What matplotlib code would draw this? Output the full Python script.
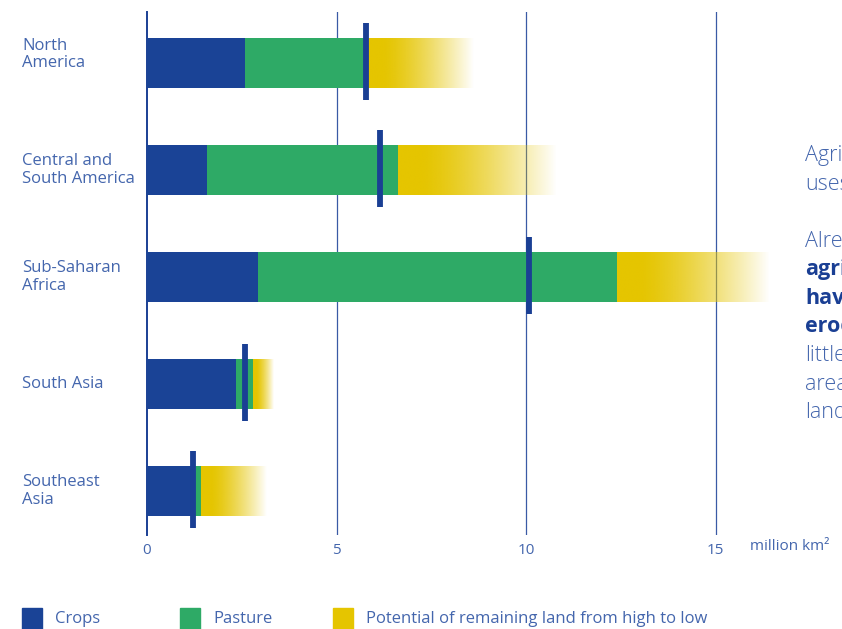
import numpy as np
import matplotlib
matplotlib.use('Agg')
import matplotlib.pyplot as plt
from matplotlib.patches import Rectangle

plt.rcParams['font.family'] = ['Open Sans', 'DejaVu Sans']

# land use per region, million km2
regions = ['North\nAmerica', 'Central and\nSouth America', 'Sub-Saharan\nAfrica',
           'South Asia', 'Southeast\nAsia']
crops = [2.59, 1.59, 2.94, 2.35, 1.27]
pasture = [3.22, 5.02, 9.47, 0.45, 0.16]
potential = [2.80, 4.18, 4.02, 0.53, 1.74]
marker = [5.77, 6.14, 10.08, 2.59, 1.22]
ticks = [0, 5, 10, 15]

side_lines = ['Agriculture', 'uses']
side_lines2 = [('Already', False), ('agricultural', True), ('have', True),
               ('eroded', True), ('little', False), ('areas', False), ('land', False)]

c_crops = '#1a4396'
c_past = '#2eaa66'
c_pot = '#e5c500'
c_text = '#4466ad'
c_dark = '#1a3f94'

fig = plt.figure(figsize=(8.42, 6.29), dpi=100)
ax = fig.add_axes([147 / 842, 94 / 629, 695 / 842, 523 / 629])

y = np.arange(len(regions))
h = 0.467

for t in ticks[1:]:
    ax.axvline(t, color='#3a5aa5', lw=0.9, zorder=0)

ax.barh(y, crops, height=h, color=c_crops, zorder=2)
ax.barh(y, pasture, left=crops, height=h, color=c_past, zorder=2)

# yellow strip fading out toward the right
yellow = np.array(matplotlib.colors.to_rgb(c_pot))
n = 256
tt = np.linspace(0, 1, n)
alpha = np.clip(1 - (np.clip(tt - 0.15, 0, None) / 0.85) ** 1.4, 0, 1)
grad = np.zeros((1, n, 4))
grad[0, :, :3] = yellow
grad[0, :, 3] = alpha
for yi, c, p, pot in zip(y, crops, pasture, potential):
    x0 = c + p
    ax.imshow(grad, extent=(x0, x0 + pot, yi + h / 2, yi - h / 2),
              aspect='auto', interpolation='bilinear', zorder=1)

ax.vlines(marker, y - 0.37, y + 0.35, color=c_dark, lw=4.2, zorder=3)

ax.set_xlim(0, 695 / 37.9)
ax.set_ylim(4.411, -0.477)

for s in ['top', 'right', 'bottom']:
    ax.spines[s].set_visible(False)
ax.spines['left'].set_color(c_dark)
ax.spines['left'].set_linewidth(1.4)
ax.spines['left'].set_zorder(0)

ax.set_xticks(ticks)
ax.set_xticklabels([str(t) for t in ticks], fontsize=11, color=c_text)
ax.tick_params(axis='x', length=0, pad=6)
ax.set_yticks([])

label_offset = [-0.08, 0, 0, 0, 0]
for yi, name, off in zip(y, regions, label_offset):
    ax.text(-125 / 37.9, yi + off, name, ha='left', va='center', fontsize=12,
            color=c_text, linespacing=1.15)

fig.text(750 / 842, 1 - 547 / 629, 'million km²', fontsize=11, color=c_text,
         ha='left', va='center')

# side note, running off the right edge
for i, s in enumerate(side_lines):
    fig.text(805 / 842, 1 - (161 + i * 28.5) / 629, s, fontsize=15.5,
             color=c_text, ha='left', va='baseline', fontweight='light')
for i, (s, bold) in enumerate(side_lines2):
    fig.text(805 / 842, 1 - (247 + i * 28.5) / 629, s, fontsize=15.5,
             color=c_dark if bold else c_text, ha='left', va='baseline',
             fontweight='bold' if bold else 'light')

# legend
legend_items = [('Crops', c_crops, 22), ('Pasture', c_past, 180),
                ('Potential of remaining land from high to low', c_pot, 333)]
for name, col, px in legend_items:
    fig.add_artist(Rectangle((px / 842, 0), 20 / 842, 21 / 629,
                             transform=fig.transFigure, color=col))
    fig.text((px + 33) / 842, 1 - 619 / 629, name, fontsize=12, color=c_text,
             ha='left', va='center')

fig.savefig('out.png', dpi=100)
